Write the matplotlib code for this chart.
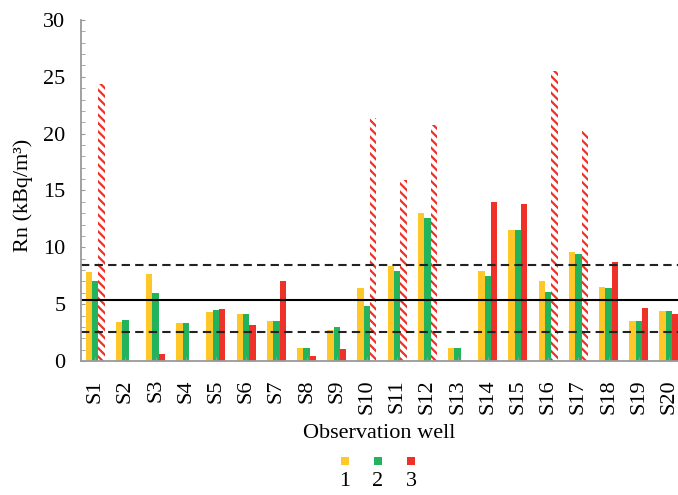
import matplotlib
matplotlib.use('Agg')
import matplotlib.pyplot as plt
import numpy as np
from matplotlib.patches import Rectangle
from matplotlib.offsetbox import AnchoredOffsetbox, DrawingArea, HPacker, VPacker, TextArea

plt.rcParams['font.family'] = ['Liberation Serif', 'DejaVu Serif']
plt.rcParams['hatch.linewidth'] = 1.6
plt.rcParams['hatch.color'] = '#EE3129'

# data
wells = ['S%d' % i for i in range(1, 21)]
rn_1 = [7.8, 3.45, 7.65, 3.3, 4.3, 4.15, 3.55, 1.15, 2.75, 6.4,
        8.4, 13.05, 1.15, 7.95, 11.5, 7.05, 9.6, 6.55, 3.55, 4.4]
rn_2 = [7.0, 3.6, 5.95, 3.3, 4.45, 4.15, 3.55, 1.15, 3.0, 4.85,
        7.95, 12.6, 1.15, 7.5, 11.5, 6.1, 9.45, 6.4, 3.55, 4.4]
rn_3 = [24.4, 0, 0.6, 0, 4.55, 3.15, 7.0, 0.45, 1.05, 21.35,
        15.9, 20.8, 0, 14.0, 13.85, 25.5, 20.2, 8.75, 4.7, 4.15]
# red bars drawn hatched in the original
rn_3_hatched = [1, 0, 0, 0, 0, 0, 0, 0, 0, 1, 1, 1, 0, 0, 0, 1, 1, 0, 0, 0]
series_labels = ['1', '2', '3']
upper_line = 8.45
mean_line = 5.37
lower_line = 2.52

yellow = '#FFC828'
green = '#22B35C'
red = '#EE3129'
gray = '#9A9A9A'

fig = plt.figure(figsize=(6.78, 4.95), dpi=100)
ax = fig.add_axes([0.119, 0.2707, 0.881, 0.689])

x = np.arange(len(wells))
w = 0.21
r3 = np.array(rn_3, dtype=float)
h = np.array(rn_3_hatched, dtype=bool)

ax.bar(x - w, rn_1, w, color=yellow, linewidth=0)
ax.bar(x, rn_2, w, color=green, linewidth=0)
ax.bar(x[~h] + w, r3[~h], w, color=red, linewidth=0)
ax.bar(x[h] + w, r3[h], w, facecolor='white', edgecolor=red,
       linewidth=0, hatch='\\\\\\\\')

ax.axhline(upper_line, color='#222222', lw=1.5, ls=(0, (4, 2.5)))
ax.axhline(mean_line, color='black', lw=1.5)
ax.axhline(lower_line, color='#222222', lw=1.5, ls=(0, (4, 2.5)))

ax.set_xlim(-0.48, 19.3)
ax.set_ylim(0, 30)
ax.set_yticks(np.arange(0, 31, 5))
ax.set_yticks(np.arange(0, 31, 1), minor=True)
ax.set_xticks(x)
ax.set_xticklabels(wells, rotation=90)

for s in ['top', 'right']:
    ax.spines[s].set_visible(False)
for s in ['left', 'bottom']:
    ax.spines[s].set_color(gray)
    ax.spines[s].set_linewidth(1.3)

ax.tick_params(axis='y', which='both', direction='in', color=gray, length=3,
               labelsize=16, pad=11)
ax.tick_params(axis='x', direction='in', color=gray, length=3,
               labelsize=16, pad=13)

ax.set_ylabel('Rn (kBq/m³)', fontsize=16)
ax.yaxis.set_label_coords(-0.079, 0.485)
ax.set_xlabel('Observation well', fontsize=16, va='center')
ax.xaxis.set_label_coords(0.5, -0.214)

# legend: square markers with the labels underneath
items = []
for lab, col in zip(series_labels, [yellow, green, red]):
    da = DrawingArea(6, 6, 0, 0)
    da.add_artist(Rectangle((0, 0), 6, 6, facecolor=col, edgecolor='none'))
    ta = TextArea(lab, textprops=dict(fontsize=16))
    items.append(VPacker(children=[da, ta], align='center', pad=0, sep=5))
pack = HPacker(children=items, align='center', pad=0, sep=16)
box = AnchoredOffsetbox(loc='center', child=pack, pad=0, borderpad=0,
                        frameon=False, bbox_to_anchor=(0.5575, 0.043),
                        bbox_transform=fig.transFigure)
fig.add_artist(box)

fig.savefig('out.png', dpi=100)
